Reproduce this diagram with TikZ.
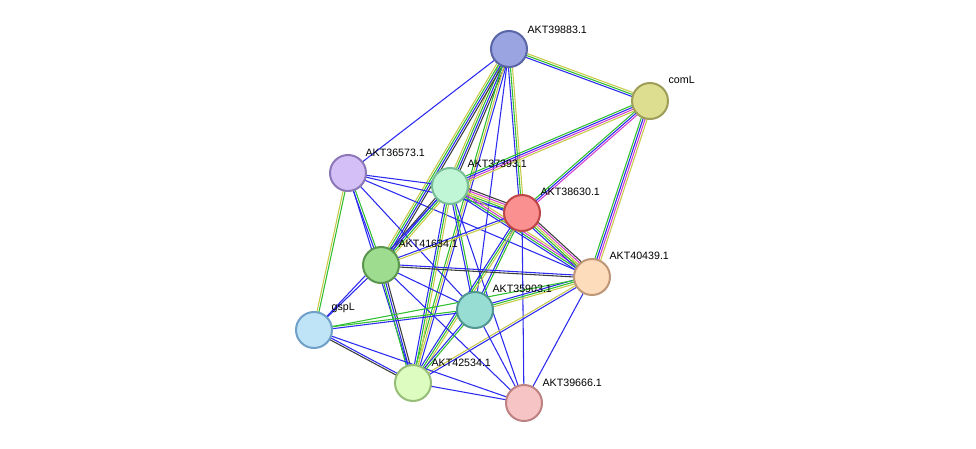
\documentclass[tikz,border=0pt]{standalone}
\usepackage{fontspec}
\setmainfont{Liberation Sans}
\usetikzlibrary{calc}
\definecolor{eb}{HTML}{2B2BF0}
\definecolor{eg}{HTML}{2FBF2F}
\definecolor{ey}{HTML}{C8C84A}
\definecolor{em}{HTML}{D040D0}
\definecolor{ek}{HTML}{3C3C3C}
\newcommand\edg[4]{\foreach \c [count=\i] in {#4}{%
  \pgfmathsetmacro\o{(\i-(#3+1)/2)*1.5}%
  \draw[\c,line width=0.8pt] ($(#1)!\o pt!90:(#2)$) -- ($(#2)!\o pt!-90:(#1)$);}}
\tikzset{prot/.style={circle,minimum size=27pt,inner sep=0pt,line width=1.5pt},
 lab/.style={font=\fontsize{8}{9}\selectfont,anchor=south west,inner sep=1pt}}
\begin{document}
\begin{tikzpicture}[x=0.75pt,y=-0.75pt]
\useasboundingbox (0,0) rectangle (976,449);
\coordinate (A) at (509,49);
\coordinate (C) at (650,101);
\coordinate (S) at (348,173);
\coordinate (T) at (450,186);
\coordinate (R) at (522,213);
\coordinate (G) at (381,265);
\coordinate (P) at (592,277);
\coordinate (Q) at (475,310);
\coordinate (L) at (314,330);
\coordinate (Y) at (413,383);
\coordinate (K) at (524,403);
\edg{A}{S}{1}{eb}
\edg{A}{T}{4}{ey,eg,eb,ek}
\edg{A}{G}{4}{ey,eg,eb,ek}
\edg{A}{Y}{3}{eg,ey,eb}
\edg{A}{Q}{1}{eb}
\edg{A}{R}{3}{eb,eg,ey}
\edg{A}{C}{3}{eb,eg,ey}
\edg{C}{T}{4}{eg,eb,em,ey}
\edg{C}{R}{3}{eg,eb,em}
\edg{C}{P}{4}{eg,eb,em,ey}
\edg{S}{T}{1}{eb}
\edg{S}{R}{1}{eb}
\edg{S}{G}{2}{eb,eg}
\edg{S}{L}{2}{ey,eg}
\edg{S}{Y}{1}{eb}
\edg{S}{Q}{1}{eb}
\edg{S}{P}{1}{eb}
\edg{T}{R}{5}{eb,eg,ey,em,ek}
\edg{T}{G}{4}{ek,eb,eg,ey}
\edg{T}{P}{4}{eb,eg,em,ey}
\edg{T}{Q}{2}{eb,eg}
\edg{T}{Y}{3}{eb,eg,ey}
\edg{T}{L}{1}{eb}
\edg{T}{K}{1}{eb}
\edg{R}{G}{2}{eb,ey}
\edg{R}{P}{5}{eb,eg,ey,em,ek}
\edg{R}{Q}{2}{eb,eg}
\edg{R}{Y}{3}{eb,eg,ey}
\edg{R}{K}{1}{eb}
\edg{G}{P}{2}{ek,eb}
\edg{G}{Q}{1}{eb}
\edg{G}{L}{1}{eb}
\edg{G}{Y}{3}{eg,eb,ek}
\edg{G}{K}{1}{eb}
\edg{P}{Q}{3}{eb,eg,ey}
\edg{P}{Y}{2}{ey,eb}
\edg{P}{K}{1}{eb}
\edg{P}{L}{1}{eg}
\edg{Q}{L}{2}{eg,eb}
\edg{Q}{Y}{2}{eb,eg}
\edg{Q}{K}{1}{eb}
\edg{L}{Y}{2}{ek,eb}
\edg{L}{K}{1}{eb}
\edg{Y}{K}{1}{eb}
\node[prot,fill={rgb,255:red,154;green,164;blue,224},draw={rgb,255:red,90;green,102;blue,168}] (nA) at (A) {};
\node[prot,fill={rgb,255:red,222;green,222;blue,144},draw={rgb,255:red,158;green,158;blue,90}] (nC) at (C) {};
\node[prot,fill={rgb,255:red,212;green,192;blue,246},draw={rgb,255:red,140;green,120;blue,184}] (nS) at (S) {};
\node[prot,fill={rgb,255:red,192;green,246;blue,214},draw={rgb,255:red,120;green,190;blue,150}] (nT) at (T) {};
\node[prot,fill={rgb,255:red,250;green,144;blue,144},draw={rgb,255:red,190;green,70;blue,70}] (nR) at (R) {};
\node[prot,fill={rgb,255:red,158;green,220;blue,144},draw={rgb,255:red,90;green,150;blue,80}] (nG) at (G) {};
\node[prot,fill={rgb,255:red,253;green,220;blue,188},draw={rgb,255:red,190;green,150;blue,120}] (nP) at (P) {};
\node[prot,fill={rgb,255:red,152;green,221;blue,212},draw={rgb,255:red,80;green,150;blue,145}] (nQ) at (Q) {};
\node[prot,fill={rgb,255:red,191;green,228;blue,248},draw={rgb,255:red,110;green,160;blue,200}] (nL) at (L) {};
\node[prot,fill={rgb,255:red,220;green,252;blue,192},draw={rgb,255:red,150;green,190;blue,120}] (nY) at (Y) {};
\node[prot,fill={rgb,255:red,246;green,196;blue,196},draw={rgb,255:red,190;green,130;blue,130}] (nK) at (K) {};
\node[lab] (lA) at (526,35) {AKT39883.1};
\node[lab] (lC) at (667,85) {comL};
\node[lab] (lS) at (364,158) {AKT36573.1};
\node[lab] (lT) at (466,169) {AKT37393.1};
\node[lab] (lR) at (539,197) {AKT38630.1};
\node[lab] (lG) at (397,249) {AKT41634.1};
\node[lab] (lP) at (608,261) {AKT40439.1};
\node[lab] (lQ) at (491,294) {AKT35903.1};
\node[lab] (lL) at (330,314) {gspL};
\node[lab] (lY) at (430,368) {AKT42534.1};
\node[lab] (lK) at (541,388) {AKT39666.1};
\end{tikzpicture}
\end{document}
